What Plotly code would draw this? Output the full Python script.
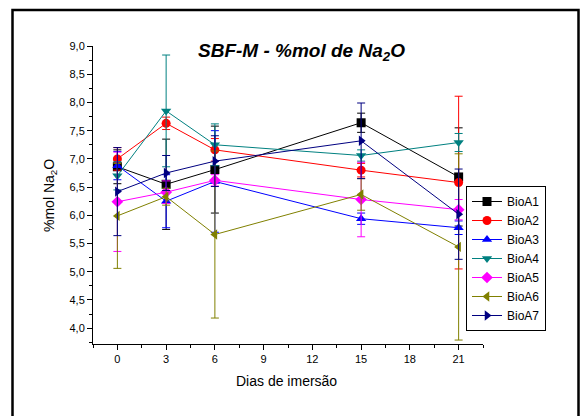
import plotly.graph_objects as go

# Immersion days and Na2O content (%mol) for each bioactive glass
dias = [0, 3, 6, 15, 21]

bioa1 = [6.86, 6.55, 6.81, 7.64, 6.68]
bioa1_err = [0.30, 0.80, 0.77, 0.17, 0.87]
bioa2 = [7.00, 7.63, 7.16, 6.80, 6.58]
bioa2_err = [0.20, 0.11, 0.20, 0.12, 1.53]
bioa3 = [6.88, 6.25, 6.60, 5.94, 5.78]
bioa3_err = [0.25, 0.47, 0.90, 0.10, 0.12]
bioa4 = [6.70, 7.85, 7.25, 7.06, 7.29]
bioa4_err = [0.25, 0.99, 0.37, 0.10, 0.16]
bioa5 = [6.24, 6.41, 6.62, 6.28, 6.10]
bioa5_err = [0.88, 0.20, 0.10, 0.66, 0.18]
bioa6 = [5.99, 6.33, 5.66, 6.37, 5.44]
bioa6_err = [0.93, 0.15, 1.48, 0.28, 1.65]
bioa7 = [6.42, 6.75, 6.96, 7.32, 6.02]
bioa7_err = [0.78, 0.31, 0.45, 0.67, 0.80]

series = [
    ("BioA1", bioa1, bioa1_err, "#000000", "square"),
    ("BioA2", bioa2, bioa2_err, "#FF0000", "circle"),
    ("BioA3", bioa3, bioa3_err, "#0000FF", "triangle-up"),
    ("BioA4", bioa4, bioa4_err, "#008080", "triangle-down"),
    ("BioA5", bioa5, bioa5_err, "#FF00FF", "diamond"),
    ("BioA6", bioa6, bioa6_err, "#808000", "triangle-left"),
    ("BioA7", bioa7, bioa7_err, "#000080", "triangle-right"),
]

x_ticks = [0, 3, 6, 9, 12, 15, 18, 21]
y_ticks = [4.0, 4.5, 5.0, 5.5, 6.0, 6.5, 7.0, 7.5, 8.0, 8.5, 9.0]

FONT = "Arial, Liberation Sans, sans-serif"

fig = go.Figure()
for name, vals, errs, color, symbol in series:
    fig.add_trace(go.Scatter(
        x=dias, y=vals, name=name, mode="lines+markers",
        line=dict(color=color, width=1),
        marker=dict(symbol=symbol, color=color, size=9),
        error_y=dict(type="data", array=errs, visible=True,
                     color=color, thickness=1, width=4),
    ))

# plot area in pixels: x 93..483, y 46..344
L, R, T, B = 93, 98, 46, 72
W, H = 581, 416
pw, ph = W - L - R, H - T - B


def px_x(p):
    return (p - L) / pw


def px_y(p):
    return (H - B - p) / ph


fig.update_layout(
    width=W, height=H,
    margin=dict(l=L, r=R, t=T, b=B),
    paper_bgcolor="white", plot_bgcolor="white",
    separators=",.",
    font=dict(family=FONT, size=11, color="black"),
    showlegend=True,
    legend=dict(
        x=px_x(466), y=px_y(186), xanchor="left", yanchor="top",
        bordercolor="black", borderwidth=1, bgcolor="white",
        font=dict(family=FONT, size=12, color="black"),
        itemwidth=30,
    ),
    xaxis=dict(
        range=[-1.5, 22.5], tickvals=x_ticks, ticktext=[str(v) for v in x_ticks],
        showline=True, linecolor="black", linewidth=1,
        ticks="outside", ticklen=5, tickcolor="black",
        minor=dict(dtick=1.5, tick0=-1.5, ticks="outside", ticklen=3, tickcolor="black"),
        showgrid=False, zeroline=False,
        tickfont=dict(family=FONT, size=11),
    ),
    yaxis=dict(
        range=[3.72, 9.0], tickvals=y_ticks, tickformat=".1f",
        showline=True, linecolor="black", linewidth=1,
        ticks="outside", ticklen=5, tickcolor="black",
        minor=dict(dtick=0.25, tick0=4.0, ticks="outside", ticklen=3, tickcolor="black"),
        showgrid=False, zeroline=False,
        tickfont=dict(family=FONT, size=11),
    ),
    annotations=[
        dict(text="<b><i>SBF-M - %mol de Na<sub>2</sub>O</i></b>",
             x=px_x(301), y=px_y(52), xref="paper", yref="paper",
             xanchor="center", yanchor="middle",
             showarrow=False, font=dict(family=FONT, size=19, color="black")),
        dict(text="%mol Na<sub>2</sub>O", textangle=-90,
             x=px_x(50), y=px_y(196), xref="paper", yref="paper",
             xanchor="center", yanchor="middle",
             showarrow=False, font=dict(family=FONT, size=14, color="black")),
        dict(text="Dias de imersão",
             x=px_x(286), y=px_y(381), xref="paper", yref="paper",
             xanchor="center", yanchor="middle",
             showarrow=False, font=dict(family=FONT, size=14, color="black")),
    ],
    shapes=[
        dict(type="rect", xref="paper", yref="paper",
             x0=px_x(12.5), x1=px_x(578.5), y0=px_y(430), y1=px_y(10),
             line=dict(color="black", width=2.5), fillcolor="rgba(0,0,0,0)",
             layer="below"),
    ],
)

fig.write_html("out.html")
